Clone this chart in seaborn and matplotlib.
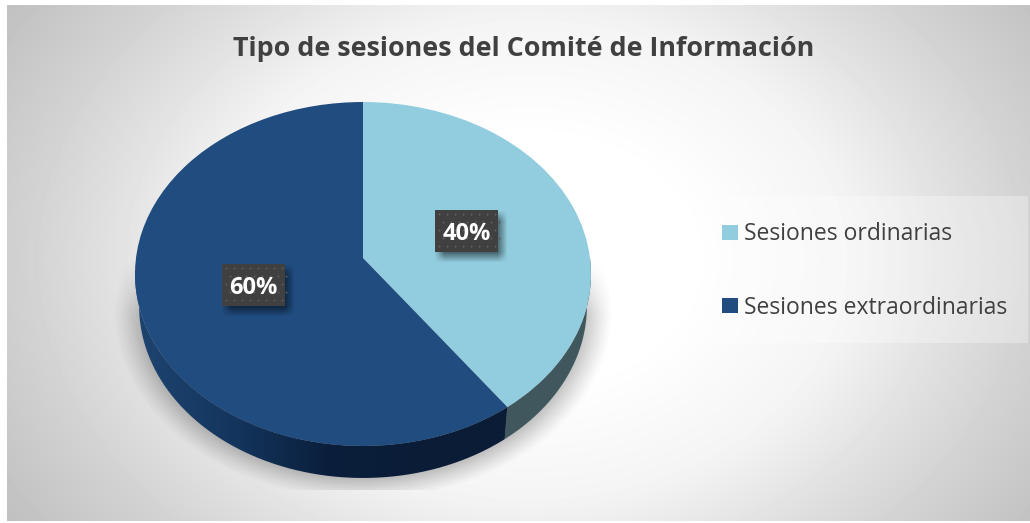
import numpy as np
import matplotlib
matplotlib.use("Agg")
import matplotlib.pyplot as plt
import seaborn as sns
from matplotlib.colors import LinearSegmentedColormap
from matplotlib.patches import PathPatch, Rectangle
from matplotlib.path import Path
from matplotlib.transforms import Transform

TITLE = "Tipo de sesiones del Comité de Información"
CATEGORIES = ["Sesiones ordinarias", "Sesiones extraordinarias"]
VALUES = [40, 60]
VALUE_LABELS = ["40%", "60%"]
COLORS = ["#92CDDF", "#204C7F"]

W, H = 1030, 523

sns.set_theme(style="white")
plt.rcParams['font.family'] = ['Open Sans', 'DejaVu Sans']


class Tilt(Transform):
    """Lleva el circulo unidad del pie al disco inclinado (en pixeles)"""
    input_dims = 2
    output_dims = 2

    def __init__(self, cx=363, apex=258, k=227, a=-146.5, c=0.093):
        super().__init__()
        self.cx, self.apex, self.k, self.a, self.c = cx, apex, k, a, c

    def transform_non_affine(self, xy):
        xy = np.asarray(xy, dtype=float)
        d = 1 + self.c * xy[:, 1]
        return np.column_stack([self.cx + self.k * xy[:, 0] / d,
                                (self.apex + self.a * xy[:, 1]) / d])


def rim(a0, a1, tilt, depth=32, shrink=0.982):
    """Borde exterior del disco entre dos angulos (reloj, desde arriba)"""
    t = np.radians(np.linspace(a0, a1, 200))
    top = tilt.transform_non_affine(np.column_stack([np.sin(t), np.cos(t)]))
    low = top.copy()
    low[:, 0] = 363 + (low[:, 0] - 363) * shrink
    low[:, 1] += depth
    return np.vstack([top, low[::-1]])


def soft_box(ax, x0, y0, x1, y1, blur, alpha, z):
    """Sombra difusa rectangular"""
    yy, xx = np.mgrid[y0 - 2 * blur:y1 + 2 * blur, x0 - 2 * blur:x1 + 2 * blur]
    fx = np.clip((xx - x0 + blur) / (2 * blur), 0, 1) * np.clip((x1 + blur - xx) / (2 * blur), 0, 1)
    fy = np.clip((yy - y0 + blur) / (2 * blur), 0, 1) * np.clip((y1 + blur - yy) / (2 * blur), 0, 1)
    rgba = np.zeros(xx.shape + (4,))
    rgba[..., 3] = alpha * fx * fy
    ax.imshow(rgba, extent=(x0 - 2 * blur, x1 + 2 * blur, y1 + 2 * blur, y0 - 2 * blur),
              aspect='auto', zorder=z)


fig = plt.figure(figsize=(W / 100, H / 100), dpi=100, facecolor='white')
ax = fig.add_axes([0, 0, 1, 1])

wedges, _ = ax.pie(VALUES, colors=COLORS, startangle=90, counterclock=False,
                   wedgeprops={'linewidth': 0}, frame=False)
ax.set_aspect('auto')
ax.set_xlim(0, W)
ax.set_ylim(H, 0)
ax.axis('off')

tilt = Tilt()
for w in wedges:
    w.set_transform(tilt + ax.transData)
    w.set_zorder(5)

# fondo con degradado radial
yy, xx = np.mgrid[0:H, 0:W] + 0.5
r = np.hypot((xx - 530) / 530, (yy - 260) / 400)
gray = np.interp(r, [0.3, 0.6, 0.8, 0.95, 1.2], [255, 244, 224, 210, 190])
bg = ax.imshow(gray, cmap='gray', vmin=0, vmax=255, extent=(0, W, H, 0), aspect='auto', zorder=0)
bg.set_clip_path(Rectangle((7, 5), W - 7, H - 7, transform=ax.transData))

# sombra bajo el pie
e = np.hypot((xx - 363) / 250, (yy - 312) / 188)
shade = np.clip((1.0 - e) / 0.2, 0, 1) ** 1.2
shade *= np.clip((yy - 255) / 60, 0, 1) * (yy < 490)
rgba = np.zeros((H, W, 4))
rgba[..., 3] = 0.45 * shade
ax.imshow(rgba, extent=(0, W, H, 0), aspect='auto', zorder=1)

# pared lateral, a partir de los mismos valores
split = 360 * VALUES[0] / sum(VALUES)
light_wall = rim(90, split, tilt)
ax.add_patch(PathPatch(Path(light_wall), fc="#41575E", ec='none', zorder=3))
dark_wall = rim(split, 270, tilt)
cmap = LinearSegmentedColormap.from_list("wall", ["#1D4470", "#14365E", "#0B1F3C", "#0A1C36", "#0A1C36"])
grad = ax.imshow(np.linspace(0, 1, 256)[None, :], cmap=cmap, extent=(135, 520, 480, 270),
                 aspect='auto', zorder=3)
grad.set_clip_path(PathPatch(Path(dark_wall), transform=ax.transData))

# etiquetas de valor
boxes = [(435, 210, 498, 252), (222, 264, 285, 306)]
for (x0, y0, x1, y1), lab in zip(boxes, VALUE_LABELS):
    soft_box(ax, x0 + 4, y0 + 5, x1 + 4, y1 + 5, 5, 0.5, 6)
    ax.add_patch(Rectangle((x0, y0), x1 - x0, y1 - y0, fc="#404040", ec='none', zorder=7))
    xs = np.arange(x0 + 4, x1, 8)
    for k, y in enumerate(np.arange(y0 + 4, y1, 8)):
        ax.scatter(xs + (k % 2) * 4, np.full(xs.shape, y), s=2.2, c="#5C5C5C", linewidths=0, zorder=8)
    ax.text((x0 + x1) / 2, (y0 + y1) / 2, lab, color='white', fontsize=17, fontweight='bold',
            ha='center', va='center_baseline', zorder=9)

ax.text(524, 49, TITLE, color="#404040", fontsize=19.33, fontweight='bold', ha='center', va='center', zorder=9)

# panel de la leyenda
ax.add_patch(Rectangle((701, 196), 327, 147, fc='white', ec='none', alpha=0.3, zorder=4))
leg = ax.legend(wedges, CATEGORIES, loc='upper left', bbox_to_anchor=(722, 222.5),
                bbox_transform=ax.transData, frameon=False, fontsize=16.5, labelcolor="#404040",
                handlelength=0.68, handleheight=0.68, handletextpad=0.3,
                labelspacing=2.14, borderpad=0, borderaxespad=0)
leg.set_zorder(6)

fig.savefig("out.png", dpi=100)
